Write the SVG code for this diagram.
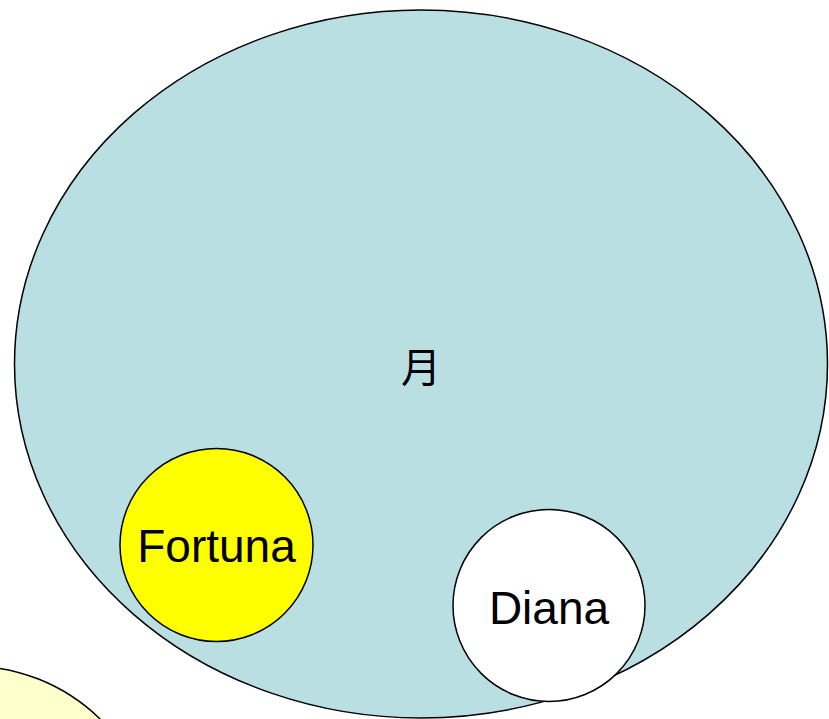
<svg xmlns="http://www.w3.org/2000/svg" width="829" height="719" viewBox="0 0 829 719">
<style>
.shape{stroke:#000;stroke-width:1.5}
.lbl{font-family:"Liberation Sans",Arial,sans-serif;font-size:46px;fill:#000;text-anchor:middle}
.cjk{font-family:"Noto Sans CJK SC","Noto Sans CJK JP",sans-serif;font-size:40px;fill:#000;text-anchor:middle}
</style>
<rect width="829" height="719" fill="#fff"/>
<g id="other">
<circle class="shape" cx="-30" cy="852" r="186" fill="#FFFFCC"/>
</g>
<g id="moon">
<ellipse class="shape" cx="421" cy="364" rx="406.5" ry="354" fill="#B9DFE3"/>
<text class="cjk" x="421" y="382">月</text>
</g>
<g id="fortuna">
<circle class="shape" cx="216.5" cy="545" r="96.5" fill="#FFFF00"/>
<text class="lbl" x="216.5" y="562">Fortuna</text>
</g>
<g id="diana">
<circle class="shape" cx="549" cy="605.5" r="96" fill="#FFFFFF"/>
<text class="lbl" x="549" y="624">Diana</text>
</g>
<g id="connectors"/>
</svg>
